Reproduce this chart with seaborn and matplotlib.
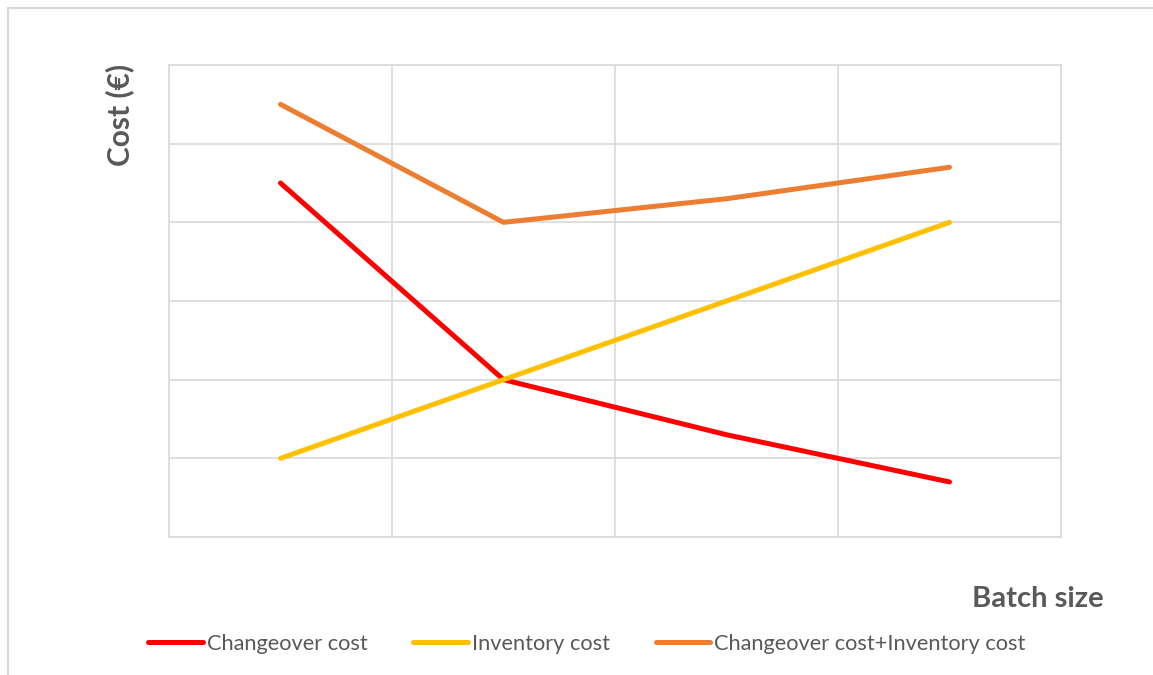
import matplotlib
matplotlib.use("Agg")
import matplotlib.pyplot as plt
import seaborn as sns
import pandas as pd
from matplotlib.patches import Rectangle

# Chart data
batch_sizes = ["Small", "Medium", "Large", "Very large"]
changeover_cost = [4.5, 2.0, 1.3, 0.7]
inventory_cost = [1.0, 2.0, 3.0, 4.0]
total_cost = [5.5, 4.0, 4.3, 4.7]
series_names = ["Changeover cost", "Inventory cost", "Changeover cost+Inventory cost"]
series_colors = ["#FF0000", "#FFC000", "#ED7D31"]

frames = []
for name, vals in zip(series_names, [changeover_cost, inventory_cost, total_cost]):
    frames.append(pd.DataFrame({"Batch size": batch_sizes, "Cost": vals, "Series": name}))
df = pd.concat(frames, ignore_index=True)

sns.set_theme(style="white")
plt.rcParams["font.family"] = ["Lato", "DejaVu Sans"]

W, H = 1153, 675
fig = plt.figure(figsize=(W / 100, H / 100), dpi=100)
ax = fig.add_axes([169 / W, (H - 537) / H, (1061 - 169) / W, (537 - 65) / H])

line_w = 3.6
sns.lineplot(data=df, x="Batch size", y="Cost", hue="Series",
             palette=series_colors, hue_order=series_names,
             linewidth=line_w, sort=False, ax=ax, legend=False)
for ln in ax.lines:
    ln.set_solid_capstyle("round")

grid_color = "#D9D9D9"
ax.set_xlim(-0.5, len(batch_sizes) - 0.5)
ax.set_ylim(0, 6)
ax.set_xticks([i - 0.5 for i in range(len(batch_sizes) + 1)])
ax.set_yticks(range(0, 7))
ax.set_xticklabels([])
ax.set_yticklabels([])
ax.tick_params(length=0)
ax.grid(True, color=grid_color, linewidth=1.2)
ax.set_axisbelow(True)
for sp in ax.spines.values():
    sp.set_color(grid_color)
    sp.set_linewidth(1.2)
ax.set_xlabel("")
ax.set_ylabel("")

text_color = "#595959"
fig.text(120 / W, 1 - 115 / H, "Cost (€)", rotation=90, ha="center", va="center",
         fontsize=21.5, fontweight="bold", color=text_color)
fig.text(1104 / W, 1 - 599 / H, "Batch size", ha="right", va="center",
         fontsize=21, fontweight="bold", color=text_color)

# Outer chart frame
fig.patches.append(Rectangle((8 / W, -0.1), 1.2, (H - 8) / H + 0.1, transform=fig.transFigure,
                             fill=False, edgecolor=grid_color, linewidth=1.5))

handles = [plt.Line2D([], [], color=c, linewidth=line_w, solid_capstyle="round") for c in series_colors]
leg = fig.legend(handles, series_names, loc="center", bbox_to_anchor=(587 / W, 1 - 644 / H),
                 ncol=3, frameon=False, fontsize=15.7, handlelength=2.5, handletextpad=0.18,
                 columnspacing=2.1, borderaxespad=0, borderpad=0)
for t in leg.get_texts():
    t.set_color(text_color)

fig.savefig("out.png", dpi=100)
